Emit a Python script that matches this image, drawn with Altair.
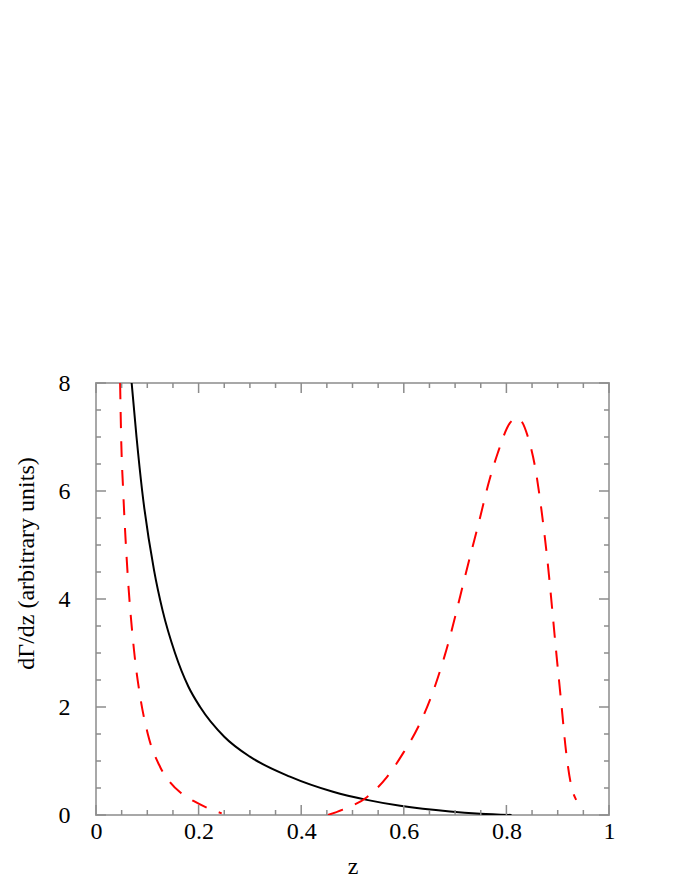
import altair as alt
import pandas as pd

# ---- data ----
black_z = [0.0695, 0.079, 0.09, 0.113, 0.13, 0.154, 0.18, 0.203, 0.25, 0.3, 0.378,
           0.462, 0.528, 0.593, 0.69, 0.749, 0.81]
black_y = [8.0, 7.0, 6.0, 4.54, 3.78, 3.0, 2.38, 2.0, 1.45, 1.08, 0.71,
           0.43, 0.28, 0.17, 0.065, 0.025, 0.0]

red1_z = [0.047, 0.049, 0.053, 0.060, 0.074, 0.086, 0.101, 0.125, 0.145, 0.164, 0.19, 0.22, 0.245]
red1_y = [8.0, 7.0, 6.0, 4.72, 3.06, 2.2, 1.5, 0.89, 0.6, 0.42, 0.26, 0.12, 0.03]

red2_z = [0.452, 0.481, 0.528, 0.567, 0.599, 0.628, 0.651, 0.68, 0.725, 0.75, 0.764, 0.783,
          0.807, 0.82, 0.828, 0.842, 0.856, 0.869, 0.879, 0.898, 0.907, 0.916, 0.926, 0.936]
red2_y = [0.0, 0.1, 0.33, 0.7, 1.15, 1.63, 2.13, 2.96, 4.63, 5.56, 6.1, 6.7,
          7.26, 7.35, 7.31, 7.0, 6.44, 5.6, 4.8, 2.93, 2.07, 1.2, 0.56, 0.28]

x_major = [0, 0.2, 0.4, 0.6, 0.8, 1]
x_minor = [0.05, 0.1, 0.15, 0.25, 0.3, 0.35, 0.45, 0.5, 0.55, 0.65, 0.7, 0.75, 0.85, 0.9, 0.95]
y_major = [0, 2, 4, 6, 8]
y_minor = [0.5, 1, 1.5, 2.5, 3, 3.5, 4.5, 5, 5.5, 6.5, 7, 7.5]

W, H = 513, 432
FONT = "Liberation Serif"
TICK = "#8c8c8c"

black_df = pd.DataFrame({"z": black_z, "y": black_y})
red_df = pd.DataFrame({
    "z": red1_z + red2_z,
    "y": red1_y + red2_y,
    "seg": ["a"] * len(red1_z) + ["b"] * len(red2_z),
})

xs = alt.Scale(domain=[0, 1], nice=False)
ys = alt.Scale(domain=[0, 8], nice=False)

x_axis = alt.Axis(values=x_major, labelExpr="datum.value", labelPadding=4, labelFlush=False,
                  domain=False, ticks=False, grid=False,
                  labelFont=FONT, labelFontSize=24, labelColor="black",
                  title="z", titleFont=FONT, titleFontSize=24, titleFontWeight="normal",
                  titleColor="black", titleX=W / 2, titleY=58, titleBaseline="alphabetic")
y_axis = alt.Axis(values=y_major, labelExpr="datum.value", labelPadding=26, labelFlush=False,
                  domain=False, ticks=False, grid=False,
                  labelFont=FONT, labelFontSize=24, labelColor="black",
                  title="dΓ/dz (arbitrary units)", titleFont=FONT, titleFontSize=24,
                  titleFontWeight="normal", titleColor="black", titleX=-70, titleY=180,
                  titleBaseline="middle", titleAlign="center", titleAngle=-90)

black = alt.Chart(black_df).mark_line(color="black", strokeWidth=2, interpolate="monotone", clip=True).encode(
    x=alt.X("z:Q", scale=xs, axis=x_axis),
    y=alt.Y("y:Q", scale=ys, axis=y_axis),
)

red = alt.Chart(red_df).mark_line(color="#ff0000", strokeWidth=2, strokeDash=[16, 13],
                                  interpolate="monotone", clip=True).encode(
    x=alt.X("z:Q", scale=xs),
    y=alt.Y("y:Q", scale=ys),
    detail="seg:N",
)

def xticks(vals, length):
    df = pd.DataFrame({"t": vals})
    base = alt.Chart(df).mark_rule(color=TICK, strokeWidth=1.5)
    bottom = base.encode(x=alt.X("t:Q", scale=xs), y=alt.value(H), y2=alt.value(H - length))
    top = base.encode(x=alt.X("t:Q", scale=xs), y=alt.value(0), y2=alt.value(length))
    return [bottom, top]

def yticks(vals, length):
    df = pd.DataFrame({"t": vals})
    base = alt.Chart(df).mark_rule(color=TICK, strokeWidth=1.5)
    left = base.encode(y=alt.Y("t:Q", scale=ys), x=alt.value(0), x2=alt.value(length))
    right = base.encode(y=alt.Y("t:Q", scale=ys), x=alt.value(W), x2=alt.value(W - length))
    return [left, right]

layers = [black, red] + xticks(x_major, 10) + xticks(x_minor, 5) + yticks(y_major, 10) + yticks(y_minor, 5)

chart = alt.layer(*layers).properties(
    width=W, height=H,
    background="white",
    autosize=alt.AutoSizeParams(type="none"),
    padding={"left": 88, "top": 375, "right": 50, "bottom": 75},
).configure_view(
    stroke="#a8a8a8", strokeWidth=2
).configure_axis(
    domain=False, ticks=False, grid=False, labelFlush=False,
    labelFont=FONT, labelFontSize=24, labelColor="black",
    titleFont=FONT, titleFontSize=24, titleFontWeight="normal", titleColor="black",
)

chart.save("out.html", embed_options={"renderer": "svg", "actions": False})
